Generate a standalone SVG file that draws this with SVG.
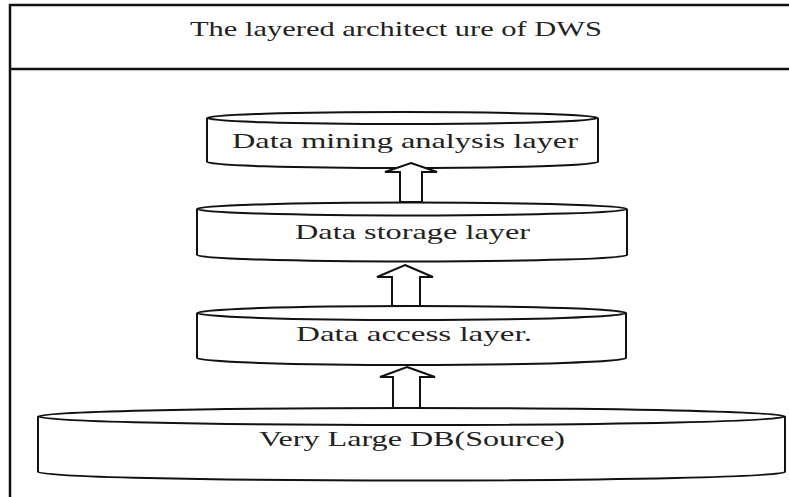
<svg xmlns="http://www.w3.org/2000/svg" width="789" height="497" viewBox="0 0 789 497">
<style>
.frame{fill:none;stroke:#111;stroke-width:2.5}
.cyl{fill:#fff;stroke:#111;stroke-width:2}
.arr{fill:#fff;stroke:#111;stroke-width:2;stroke-linejoin:miter}
.lbl{font-family:"Liberation Serif","Times New Roman",serif;font-size:21px;fill:#222}
</style>
<rect x="0" y="0" width="789" height="497" fill="#fff"/>
<g id="frame">
<rect class="frame" x="10" y="5" width="800" height="520"/>
<line class="frame" x1="10" y1="69" x2="789" y2="69"/>
<text class="lbl" x="190" y="36" textLength="412" lengthAdjust="spacingAndGlyphs">The layered architect ure of DWS</text>
</g>
<g id="mining">
<path class="cyl" d="M207,118 L207,162 A195.5,6 0 0 0 598,162 L598,118"/>
<ellipse class="cyl" cx="402.5" cy="118" rx="195.5" ry="6"/>
<text class="lbl" x="232" y="148" textLength="346" lengthAdjust="spacingAndGlyphs">Data mining analysis layer</text>
</g>
<g id="storage">
<path class="cyl" d="M197,209 L197,255 A215,6.5 0 0 0 627,255 L627,209"/>
<ellipse class="cyl" cx="412" cy="209" rx="215" ry="6.5"/>
<text class="lbl" x="295" y="239" textLength="235" lengthAdjust="spacingAndGlyphs">Data storage layer</text>
</g>
<g id="access">
<path class="cyl" d="M197,313 L197,358 A214.5,7 0 0 0 626,358 L626,313"/>
<ellipse class="cyl" cx="411.5" cy="313" rx="214.5" ry="7"/>
<text class="lbl" x="296" y="341" textLength="236" lengthAdjust="spacingAndGlyphs">Data access layer.</text>
</g>
<g id="source">
<path class="cyl" d="M38,416.5 L38,472 A373.5,8.5 0 0 0 785,472 L785,416.5"/>
<ellipse class="cyl" cx="411.5" cy="416.5" rx="373.5" ry="8.5"/>
<text class="lbl" x="259" y="446" textLength="306" lengthAdjust="spacingAndGlyphs">Very Large DB(Source)</text>
</g>
<g id="connectors">
<path class="arr" d="M411,163 L437,172 L422,172 L422,202 L400,202 L400,172 L385,172 Z"/>
<path class="arr" d="M405,265 L433,277 L420,277 L420,306 L392,306 L392,277 L377,277 Z"/>
<path class="arr" d="M407,367 L435,377 L420,377 L420,408 L393,408 L393,377 L380,377 Z"/>
</g>
</svg>
